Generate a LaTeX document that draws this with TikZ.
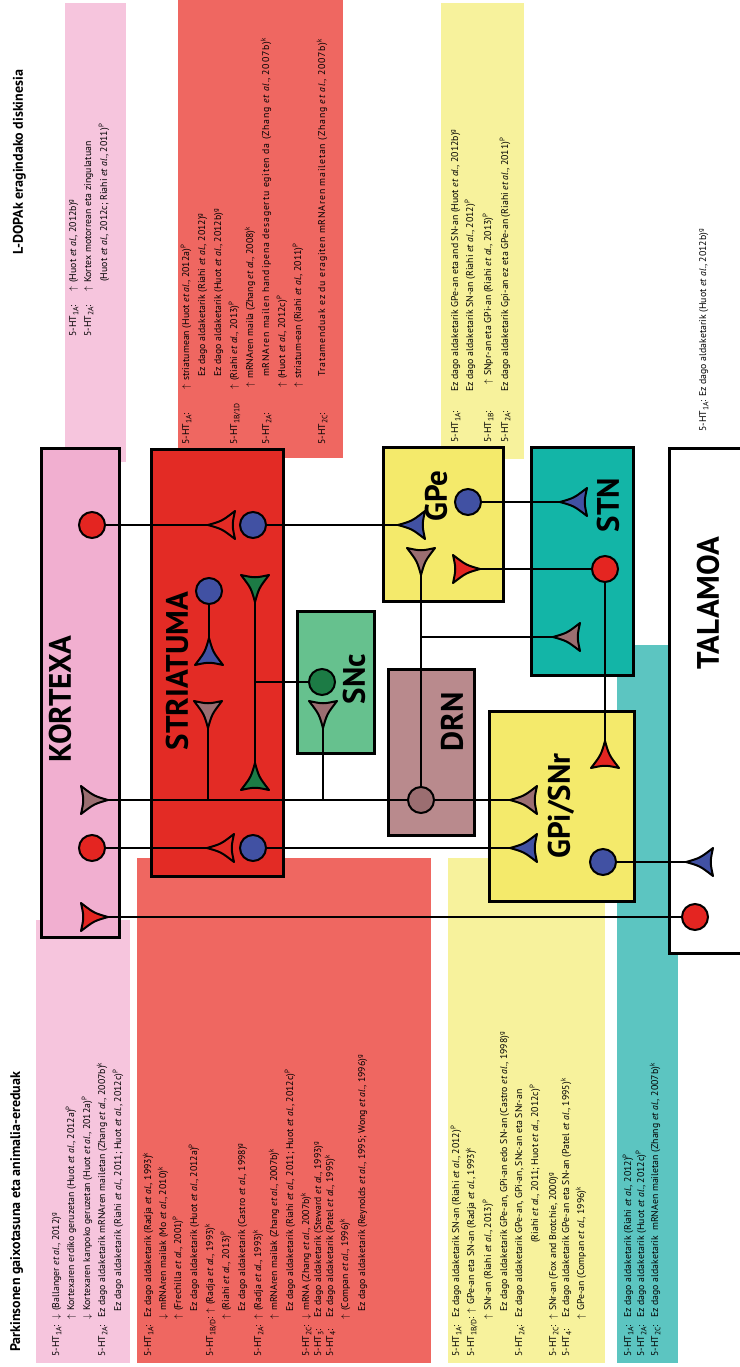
\documentclass[tikz,border=0pt]{standalone}
\usepackage{fontspec}
\setmainfont{PT Sans}
\definecolor{kpink}{HTML}{F1AFD0}
\definecolor{bpink}{HTML}{F6C5DD}
\definecolor{sred}{HTML}{E32B25}
\definecolor{bred}{HTML}{EF6761}
\definecolor{sncg}{HTML}{66C18E}
\definecolor{gyel}{HTML}{F4EA6B}
\definecolor{byel}{HTML}{F7F29C}
\definecolor{stnt}{HTML}{13B5A7}
\definecolor{bteal}{HTML}{5CC5C1}
\definecolor{drnc}{HTML}{B98A8D}
\definecolor{nblue}{HTML}{4151A3}
\definecolor{nred}{HTML}{E42521}
\definecolor{nmauve}{HTML}{9B6E71}
\definecolor{ngreen}{HTML}{1C7B45}
\pgfdeclarelayer{bands}\pgfdeclarelayer{boxes}\pgfdeclarelayer{lines}
\pgfsetlayers{bands,boxes,lines,main}
\newcounter{tno}
\newcommand\TX[3]{\stepcounter{tno}\node[tx] (t\arabic{tno}) at (#1+3.2,#2) {#3};}
\newcommand\sbs[1]{\raisebox{-2.2pt}{\fontsize{7.6}{8}\selectfont #1}}
\newcommand\HT[1]{5-HT\sbs{#1}:}
\newcommand\ea{\textit{et al.}}
\newcommand\up{$\uparrow$\hspace{4pt}}
\newcommand\dn{$\downarrow$\hspace{4pt}}
\newcommand\wide[1]{{\addfontfeature{LetterSpace=8}#1}}
\newcommand\NT[5]{\coordinate (#1) at (#2,#3);
  \draw[nrn, fill=#5, shift={(#2,#3)}, rotate=#4] (0,0) .. controls (14,4) .. (27,14) .. controls (24,0) .. (27,-14) .. controls (14,-4) .. (0,0) -- cycle;}
\tikzset{
  tx/.style={rotate=90, anchor=base west, inner sep=0pt, font=\fontsize{9.8}{11}\selectfont},
  ttl/.style={rotate=90, anchor=base west, inner sep=0pt, font=\bfseries\fontsize{14}{16}\selectfont},
  box/.style={draw=black, line width=3pt, anchor=north west, inner sep=0pt},
  lbl/.style={rotate=90, inner sep=0pt, font=\bfseries\fontsize{31}{33}\selectfont},
  nrn/.style={draw=black, line width=2pt, line join=round},
  cir/.style={circle, draw=black, line width=2pt, minimum size=26pt, inner sep=0pt},
  ln/.style={draw=black, line width=2.3pt}
}
\begin{document}
\begin{tikzpicture}[x=1pt,y=-1pt]
\useasboundingbox (0,0) rectangle (739,1367);
% ---------- bands ----------
\begin{pgfonlayer}{bands}
\fill[white] (0,0) rectangle (739,1367);
\fill[bpink] (65,3) rectangle (126,462);
\fill[bred] (178,0) rectangle (343,458);
\fill[byel] (441,3) rectangle (524,459);
\fill[bpink] (36,920) rectangle (130,1363);
\fill[bred] (137,858) rectangle (431,1363);
\fill[byel] (448,858) rectangle (605,1363);
\fill[bteal] (617,645) rectangle (678,1363);
\end{pgfonlayer}
% ---------- boxes ----------
\begin{pgfonlayer}{boxes}
\node[box, fill=kpink, minimum width=78pt, minimum height=489pt] (kortex) at (40,447) {};
\node[box, fill=sred, minimum width=132pt, minimum height=427pt] (striat) at (150,448) {};
\node[box, fill=sncg, minimum width=77pt, minimum height=142pt] (snc) at (296,610) {};
\node[box, fill=gyel, minimum width=120pt, minimum height=154pt] (gpe) at (382,446) {};
\node[box, fill=stnt, minimum width=102pt, minimum height=228pt] (stn) at (530,446) {};
\node[box, fill=drnc, minimum width=86pt, minimum height=166pt] (drn) at (387,668) {};
\node[box, fill=gyel, minimum width=145pt, minimum height=190pt] (gpi) at (488,710) {};
\node[box, fill=white, minimum width=92pt, minimum height=505pt] (tal) at (668,447) {};
\end{pgfonlayer}
% ---------- box labels ----------
\node[lbl] (kortexl) at (60,699) {KORTEXA};
\node[lbl] (striatl) at (177,671) {STRIATUMA};
\node[lbl] (sncl) at (354,679) {SNc};
\node[lbl] (gpel) at (436,496) {GPe};
\node[lbl] (stnl) at (608,505) {STN};
\node[lbl] (drnl) at (452,722) {DRN};
\node[lbl] (gpil) at (561,806) {GPi/SNr};
\node[lbl] (tall) at (708,603) {TALAMOA};
% ---------- neurons: circles ----------
\node[cir, fill=nred] (c1) at (92,525) {};
\node[cir, fill=nblue] (b1) at (253,525) {};
\node[cir, fill=nblue] (b2) at (209,591) {};
\node[cir, fill=ngreen] (g1) at (322,682) {};
\node[cir, fill=nred] (c2) at (92,848) {};
\node[cir, fill=nblue] (b3) at (253,848) {};
\node[cir, fill=nmauve] (dc) at (421,800) {};
\node[cir, fill=nblue] (gpeb) at (468,502) {};
\node[cir, fill=nred] (stnr) at (605,569) {};
\node[cir, fill=nblue] (gpib) at (603,862) {};
\node[cir, fill=nred] (thr) at (695,917) {};
% ---------- neurons: triangles (name, tip x, tip y, angle, fill) ----------
\NT{s1}{208}{525}{0}{sred}
\NT{gpebt}{398}{525}{0}{nblue}
\NT{b2t}{209}{638}{-90}{nblue}
\NT{gt1}{255}{602}{90}{ngreen}
\NT{gt2}{255}{763}{-90}{ngreen}
\NT{m1}{208}{728}{90}{nmauve}
\NT{m2}{323}{728}{90}{nmauve}
\NT{km}{108}{800}{180}{nmauve}
\NT{gm}{510}{800}{0}{nmauve}
\NT{gpem}{421}{575}{90}{nmauve}
\NT{stnm}{553}{637}{0}{nmauve}
\NT{stnb}{560}{502}{0}{nblue}
\NT{gper}{480}{569}{180}{nred}
\NT{gpir}{605}{741}{-90}{nred}
\NT{s2}{207}{848}{0}{sred}
\NT{gpibt}{510}{848}{0}{nblue}
\NT{thb}{686}{862}{0}{nblue}
\NT{kr}{108}{917}{180}{nred}
\coordinate (j1) at (255,682);
\coordinate (j2) at (208,800);
\coordinate (j3) at (323,800);
\coordinate (j4) at (421,637);
% ---------- connectors ----------
\begin{pgfonlayer}{lines}
\draw[ln] (c1) -- (s1);
\draw[ln] (b1) -- (gpebt);
\draw[ln] (b2) -- (b2t);
\draw[ln] (gt1) -- (gt2);
\draw[ln] (j1) -- (g1);
\draw[ln] (m1) -- (j2);
\draw[ln] (m2) -- (j3);
\draw[ln] (km) -- (dc);
\draw[ln] (dc) -- (gm);
\draw[ln] (dc) -- (gpem);
\draw[ln] (j4) -- (stnm);
\draw[ln] (gpeb) -- (stnb);
\draw[ln] (stnr) -- (gper);
\draw[ln] (stnr) -- (gpir);
\draw[ln] (c2) -- (s2);
\draw[ln] (b3) -- (gpibt);
\draw[ln] (gpib) -- (thb);
\draw[ln] (kr) -- (thr);
\end{pgfonlayer}
% ---------- titles ----------
\node[ttl] (title1) at (23,255) {L-DOPAk eragindako diskinesia};
\node[ttl] (title2) at (20,1352) {Parkinsonen gaixotasuna eta animalia-ereduak};
% ---------- top pink ----------
\TX{73}{337}{\HT{1A}}
\TX{73}{292}{\up(Huot \ea, 2012b)\textsuperscript{g}}
\TX{88}{337}{\HT{2A}}
\TX{88}{292}{\up Kortex motorrean eta zingulatuan}
\TX{104}{282}{(Huot \ea, 2012c; Riahi \ea, 2011)\textsuperscript{P}}
% ---------- top red ----------
\TX{186}{445}{\HT{1A}}
\TX{186}{390}{\up striatumean (Huot \ea, 2012a)\textsuperscript{P}}
\TX{202}{377}{Ez dago aldaketarik (Riahi \ea, 2012)\textsuperscript{g}}
\TX{218}{377}{Ez dago aldaketarik (Huot \ea, 2012b)\textsuperscript{g}}
\TX{234}{445}{5-HT\sbs{1B/1D}}
\TX{234}{390}{\up(Riahi \ea, 2013)\textsuperscript{P}}
\TX{250}{388}{\up mRNAren maila (Zhang \ea, 2008)\textsuperscript{k}}
\TX{266}{445}{\HT{2A}}
\TX{266}{377}{\wide{mRNAren mailen handipena desagertu egiten da (Zhang \ea, 2007b)}\textsuperscript{k}}
\TX{282}{388}{\up(Huot \ea, 2012c)\textsuperscript{P}}
\TX{298}{388}{\up striatum-ean (Riahi \ea, 2011)\textsuperscript{P}}
\TX{322}{445}{\HT{2C}}
\TX{322}{377}{\wide{Tratamenduak ez du eragiten mRNAren mailetan (Zhang \ea, 2007b)}\textsuperscript{k}}
% ---------- top yellow ----------
\TX{455}{443}{\HT{1A}}
\TX{455}{392}{Ez dago aldaketarik GPe-an eta and SN-an (Huot \ea, 2012b)\textsuperscript{g}}
\TX{470}{392}{Ez dago aldaketarik SN-an (Riahi \ea, 2012)\textsuperscript{P}}
\TX{488}{443}{\HT{1B}}
\TX{488}{385}{\up SNpr-an eta GPi-an (Riahi \ea, 2013)\textsuperscript{P}}
\TX{505}{443}{\HT{2A}}
\TX{505}{392}{Ez dago aldaketarik Gpi-an ez eta GPe-an (Riahi \ea, 2011)\textsuperscript{P}}
% ---------- top right ----------
\TX{703}{432}{\HT{1A}}
\TX{703}{397}{Ez dago aldaketarik (Huot \ea, 2012b)\textsuperscript{g}}
% ---------- bottom pink ----------
\TX{56}{1357}{\HT{1A}}
\TX{56}{1320}{\dn(Ballanger \ea, 2012)\textsuperscript{g}}
\TX{71}{1320}{\up Kortexaren erdiko geruzetan (Huot \ea, 2012a)\textsuperscript{P}}
\TX{87}{1320}{\dn Kortexaren kanpoko geruzetan (Huot \ea, 2012a)\textsuperscript{P}}
\TX{102}{1357}{\HT{2A}}
\TX{102}{1318}{Ez dago aldaketarik mRNAren mailetan (Zhang \ea, 2007b)\textsuperscript{k}}
\TX{118}{1312}{Ez dago aldaketarik (Riahi \ea, 2011; Huot \ea, 2012c)\textsuperscript{P}}
% ---------- bottom red ----------
\TX{148}{1357}{\HT{1A}}
\TX{148}{1318}{Ez dago aldaketarik (Radja \ea, 1993)\textsuperscript{k}}
\TX{163}{1320}{\dn mRNAren mailak (Mo \ea, 2010)\textsuperscript{k}}
\TX{178}{1320}{\up(Frechilla \ea, 2001)\textsuperscript{P}}
\TX{194}{1312}{Ez dago aldaketarik (Huot \ea, 2012a)\textsuperscript{P}}
\TX{210}{1357}{5-HT\sbs{1B/D}:}
\TX{210}{1314}{\up(Radja \ea, 1993)\textsuperscript{k}}
\TX{226}{1320}{\up(Riahi \ea, 2013)\textsuperscript{P}}
\TX{242}{1312}{Ez dago aldaketarik (Castro \ea, 1998)\textsuperscript{g}}
\TX{258}{1357}{\HT{2A}}
\TX{258}{1320}{\up(Radja \ea, 1993)\textsuperscript{k}}
\TX{274}{1320}{\up mRNAren mailak (Zhang \ea, 2007b)\textsuperscript{k}}
\TX{290}{1312}{Ez dago aldaketarik (Riahi \ea, 2011; Huot \ea, 2012c)\textsuperscript{P}}
\TX{306}{1357}{\HT{2C}}
\TX{306}{1320}{\dn mRNA (Zhang \ea, 2007b)\textsuperscript{k}}
\TX{318}{1357}{\HT{3}}
\TX{318}{1318}{Ez dago aldaketarik (Steward \ea, 1993)\textsuperscript{g}}
\TX{330}{1357}{\HT{4}}
\TX{330}{1318}{Ez dago aldaketarik (Patel \ea, 1995)\textsuperscript{k}}
\TX{345}{1320}{\up(Compan \ea, 1996)\textsuperscript{k}}
\TX{362}{1312}{Ez dago aldaketarik (Reynolds \ea, 1995; Wong \ea, 1996)\textsuperscript{g}}
% ---------- bottom yellow ----------
\TX{456}{1357}{\HT{1A}}
\TX{456}{1318}{Ez dago aldaketarik SN-an (Riahi \ea, 2012)\textsuperscript{P}}
\TX{471}{1357}{5-HT\sbs{1B/D}:}
\TX{471}{1314}{\up GPe-an eta SN-an (Radja \ea, 1993)\textsuperscript{k}}
\TX{488}{1320}{\up SNr-an (Riahi \ea, 2013)\textsuperscript{P}}
\TX{504}{1312}{Ez dago aldaketarik GPe-an, GPi-an edo SN-an (Castro \ea, 1998)\textsuperscript{g}}
\TX{519}{1357}{\HT{2A}}
\TX{519}{1318}{Ez dago aldaketarik GPe-an, GPi-an, SNc-an eta SNr-an}
\TX{535}{1243}{(Riahi \ea, 2011; Huot \ea, 2012c)\textsuperscript{P}}
\TX{553}{1357}{\HT{2C}}
\TX{553}{1320}{\up SNr-an (Fox and Brotchie, 2000)\textsuperscript{g}}
\TX{566}{1357}{\HT{4}}
\TX{566}{1318}{Ez dago aldaketarik GPe-an eta SN-an (Patel \ea, 1995)\textsuperscript{k}}
\TX{581}{1320}{\up GPe-an (Compan \ea, 1996)\textsuperscript{k}}
% ---------- bottom teal ----------
\TX{628}{1357}{\HT{1A}}
\TX{628}{1318}{Ez dago aldaketarik (Riahi \ea, 2012)\textsuperscript{P}}
\TX{641}{1357}{\HT{2A}}
\TX{641}{1318}{Ez dago aldaketarik (Huot \ea, 2012c)\textsuperscript{P}}
\TX{655}{1357}{\HT{2C}}
\TX{655}{1318}{Ez dago aldaketarik\ \ mRNAen mailetan (Zhang \ea, 2007b)\textsuperscript{k}}
\end{tikzpicture}
\end{document}
